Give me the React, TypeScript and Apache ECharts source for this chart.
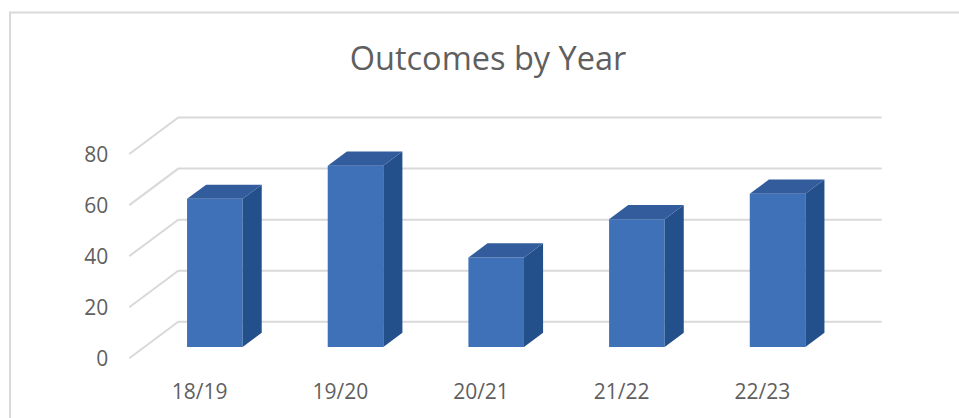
import React, { useEffect, useRef } from "react";
import * as echarts from "echarts";

const categories = ["18/19", "19/20", "20/21", "21/22", "22/23"];
const outcomes = [58, 71, 35, 50, 60];
const yTicks = [0, 20, 40, 60, 80];

const FONT = "'Open Sans', 'Noto Sans', sans-serif";
const TEXT = "#5f5f5f";
const GRID = "#d9d9d9";

// floor depth (front-left to back-left)
const DX = 49;
const DY = -36.5;
// bar placement within floor depth
const BAR_FRONT = 0.31;
const BAR_DEPTH = 0.39;
const BAR_WIDTH = 0.395;

export default function App() {
  const ref = useRef<HTMLDivElement>(null);
  useEffect(() => {
    if (!ref.current) return;
    const chart = echarts.init(ref.current, undefined, { renderer: "svg" });
    chart.setOption({
      animation: false,
      backgroundColor: "#ffffff",
      graphic: [
        {
          type: "rect",
          shape: { x: 10, y: 12.5, width: 1200, height: 800 },
          style: { fill: "none", stroke: GRID, lineWidth: 2 },
          silent: true,
          z: 0,
        },
        {
          type: "text",
          x: 488,
          y: 57,
          style: {
            text: "Outcomes by Year",
            fill: TEXT,
            font: `32.5px ${FONT}`,
            textAlign: "center",
            textVerticalAlign: "middle",
          },
          z: 10,
        },
      ],
      grid: { left: 129.3, right: 126.3, top: 154, bottom: 59.7 },
      xAxis: {
        type: "category",
        data: categories,
        boundaryGap: true,
        axisLine: { show: false },
        axisTick: { show: false },
        splitLine: { show: false },
        axisLabel: { color: TEXT, fontFamily: FONT, fontSize: 21, margin: 22 },
      },
      yAxis: {
        type: "value",
        min: 0,
        max: 80,
        interval: 20,
        axisLine: { show: false },
        axisTick: { show: false },
        splitLine: { show: false },
        axisLabel: { color: TEXT, fontFamily: FONT, fontSize: 21, margin: 21 },
      },
      series: [
        {
          type: "custom",
          silent: true,
          z: 1,
          data: yTicks.map((v) => [0, v]),
          renderItem: (params: any, api: any) => {
            const cs = params.coordSys;
            const y = api.coord([0, api.value(1)])[1];
            return {
              type: "polyline",
              shape: {
                points: [
                  [cs.x, y],
                  [cs.x + DX, y + DY],
                  [cs.x + cs.width + DX, y + DY],
                ],
              },
              style: { stroke: GRID, lineWidth: 2, fill: "none" },
            };
          },
        },
        {
          type: "custom",
          z: 2,
          data: outcomes.map((v, i) => [i, v]),
          renderItem: (params: any, api: any) => {
            const i = api.value(0);
            const v = api.value(1);
            const base = api.coord([i, 0]);
            const top = api.coord([i, v]);
            const catW = api.size([1, 0])[0];
            const ox = BAR_FRONT * DX;
            const oy = BAR_FRONT * DY;
            const bdx = BAR_DEPTH * DX;
            const bdy = BAR_DEPTH * DY;
            const w = catW * BAR_WIDTH;
            const x0 = base[0] + ox - w / 2;
            const x1 = x0 + w;
            const yb = base[1] + oy;
            const yt = top[1] + oy;
            return {
              type: "group",
              children: [
                {
                  type: "rect",
                  shape: { x: x0, y: yt, width: w, height: yb - yt },
                  style: { fill: "#3f71b9" },
                },
                {
                  type: "polygon",
                  shape: {
                    points: [
                      [x1, yt],
                      [x1 + bdx, yt + bdy],
                      [x1 + bdx, yb + bdy],
                      [x1, yb],
                    ],
                  },
                  style: { fill: "#23508a" },
                },
                {
                  type: "polygon",
                  shape: {
                    points: [
                      [x0, yt],
                      [x0 + bdx, yt + bdy],
                      [x1 + bdx, yt + bdy],
                      [x1, yt],
                    ],
                  },
                  style: { fill: "#325c9b" },
                },
              ],
            };
          },
        },
      ],
    });
    return () => chart.dispose();
  }, []);
  return (
    <div
      ref={ref}
      style={{ position: "fixed", left: 0, top: 0, width: 959, height: 418 }}
    />
  );
}
